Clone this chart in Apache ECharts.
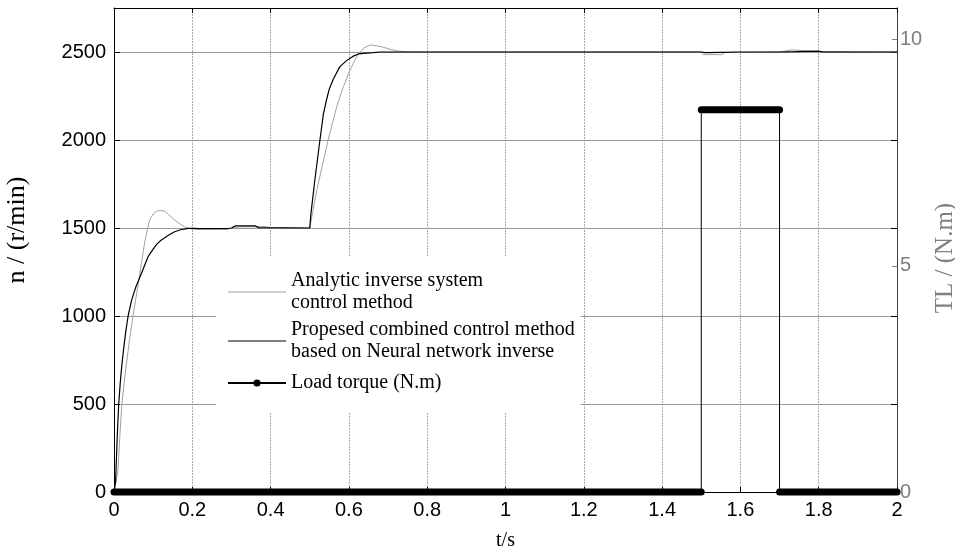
<!DOCTYPE html>
<html>
<head>
<meta charset="utf-8">
<script src="https://cdn.jsdelivr.net/npm/echarts@6/dist/echarts.min.js"></script>
<style>
html, body { margin: 0; padding: 0; background: #fff; }
#main { width: 955px; height: 553px; }
</style>
</head>
<body>
<div id="main"></div>
<script>
// speed response of the analytic inverse system (grey curve)
var tAnalytic = [0, 0.005, 0.01, 0.015, 0.02, 0.03, 0.04, 0.0485, 0.055, 0.061,
    0.07, 0.078, 0.085, 0.091, 0.1, 0.11, 0.12, 0.13, 0.14, 0.155,
    0.17, 0.18, 0.19, 0.2, 0.22, 0.29, 0.3, 0.32, 0.39, 0.4,
    0.5, 0.505, 0.518, 0.547, 0.569, 0.586, 0.603, 0.62, 0.637, 0.654,
    0.67, 0.688, 0.705, 0.722, 0.74, 0.76, 1.5, 1.505, 1.553, 1.56,
    1.7, 1.705, 1.73, 1.76, 1.8, 2];
var nAnalytic = [0, 10, 120, 320, 500, 700, 870, 1000, 1090, 1170,
    1300, 1413, 1490, 1545, 1580, 1597, 1600, 1595, 1575, 1545,
    1520, 1507, 1498, 1494, 1493, 1494, 1497, 1506, 1508, 1501,
    1500, 1560, 1716, 2000, 2190, 2303, 2398, 2474, 2521, 2540,
    2536, 2527, 2515, 2507, 2502, 2500, 2500, 2485, 2485, 2497,
    2500, 2508, 2512, 2508, 2503, 2500];

// speed response of the neural network inverse method (black curve)
var tNeural = [0, 0.004, 0.008, 0.012, 0.016, 0.02, 0.025, 0.03, 0.036, 0.045,
    0.055, 0.065, 0.075, 0.087, 0.1, 0.11, 0.121, 0.14, 0.155, 0.17,
    0.19, 0.2, 0.22, 0.29, 0.3, 0.31, 0.36, 0.37, 0.5, 0.503,
    0.513, 0.526, 0.535, 0.543, 0.55, 0.56, 0.577, 0.594, 0.61, 0.624,
    0.645, 0.662, 0.68, 1.5, 1.51, 1.55, 1.6, 1.7, 1.705, 1.8,
    1.81, 2];
var nNeural = [0, 60, 300, 500, 620, 720, 820, 910, 1000, 1090,
    1160, 1215, 1270, 1337, 1380, 1410, 1432, 1460, 1479, 1490,
    1498, 1498, 1497, 1497, 1500, 1512, 1512, 1502, 1500, 1580,
    1773, 2000, 2150, 2230, 2290, 2345, 2417, 2451, 2475, 2489,
    2494, 2496, 2500, 2500, 2496, 2498, 2500, 2500, 2505, 2505,
    2500, 2500];

// load torque step
var tTorque = [0, 1.5, 1.5, 1.7, 1.7, 2];
var vTorque = [0, 0, 8.45, 8.45, 0, 0];

var nameAnalytic = 'Analytic inverse system\ncontrol method';
var nameNeural = 'Propesed combined control method\nbased on Neural network inverse';
var nameTorque = 'Load torque (N.m)';

function pairs(t, v) {
    var res = [];
    for (var i = 0; i < t.length; i++) res.push([t[i], v[i]]);
    return res;
}

var chart = echarts.init(document.getElementById('main'));

var series = [
    {
        name: nameAnalytic, type: 'line', xAxisIndex: 0, yAxisIndex: 0,
        data: pairs(tAnalytic, nAnalytic),
        symbol: 'none', lineStyle: { color: '#a0a0a0', width: 1 },
        itemStyle: { color: '#a0a0a0' }, z: 2
    },
    {
        name: nameNeural, type: 'line', xAxisIndex: 0, yAxisIndex: 0,
        data: pairs(tNeural, nNeural),
        symbol: 'none', lineStyle: { color: '#000', width: 1.2 },
        itemStyle: { color: '#000' }, z: 3
    },
    {
        name: nameTorque, type: 'line', xAxisIndex: 0, yAxisIndex: 1,
        data: pairs(tTorque, vTorque),
        symbol: 'circle', showSymbol: false,
        lineStyle: { color: '#000', width: 1 },
        itemStyle: { color: '#000' }, z: 4
    }
];

// dense markers of the torque trace look like thick bars on the flat parts
for (var i = 0; i < tTorque.length - 1; i++) {
    if (vTorque[i] === vTorque[i + 1]) {
        series.push({
            type: 'line', xAxisIndex: 0, yAxisIndex: 1,
            data: [[tTorque[i], vTorque[i]], [tTorque[i + 1], vTorque[i + 1]]],
            symbol: 'none', clip: false, silent: true,
            lineStyle: { color: '#000', width: 7, cap: 'round' },
            z: 5
        });
    }
}

var tickFont = { fontFamily: 'Liberation Sans', fontSize: 20, color: '#000' };

chart.setOption({
    animation: false,
    backgroundColor: '#fff',
    grid: { left: 114, right: 58, top: 8, bottom: 61, outerBoundsMode: 'none' },
    legend: {
        left: 216, top: 257, orient: 'vertical',
        backgroundColor: '#fff',
        padding: [13, 6, 14, 11],
        itemWidth: 58, itemHeight: 9, itemGap: 5,
        selectedMode: false,
        textStyle: { fontFamily: 'Liberation Serif', fontSize: 20, color: '#000', lineHeight: 22 },
        data: [
            { name: nameAnalytic, icon: 'path://M0,0H100V2H0Z' },
            { name: nameNeural, icon: 'path://M0,0H100V2H0Z' },
            { name: nameTorque, textStyle: { lineHeight: 30 } }
        ]
    },
    xAxis: [
        {
            type: 'value', position: 'bottom', min: 0, max: 2, interval: 0.2,
            name: 't/s', nameLocation: 'middle', nameGap: 39,
            nameTextStyle: { fontFamily: 'Liberation Serif', fontSize: 20, color: '#000' },
            axisLine: { onZero: false, lineStyle: { color: '#000', width: 1 } },
            axisTick: { inside: true, length: 5, lineStyle: { color: '#000' } },
            axisLabel: Object.assign({ margin: 8 }, tickFont),
            splitLine: { show: true, lineStyle: { color: '#a8a8a8', width: 1, type: [2, 1] } }
        },
        {
            type: 'value', position: 'top', min: 0, max: 2, interval: 0.2,
            axisLine: { onZero: false, lineStyle: { color: '#000', width: 1 } },
            axisTick: { inside: true, length: 5, lineStyle: { color: '#000' } },
            axisLabel: { show: false },
            splitLine: { show: false }
        }
    ],
    yAxis: [
        {
            type: 'value', position: 'left', min: 0, max: 2750, interval: 500,
            name: 'n / (r/min)', nameLocation: 'middle', nameGap: 84, nameRotate: 90,
            nameTextStyle: { fontFamily: 'Liberation Serif', fontSize: 26, color: '#000', padding: [0, 0, 0, 40] },
            axisLine: { show: true, onZero: false, lineStyle: { color: '#000', width: 1 } },
            axisTick: { show: true, inside: true, length: 6, lineStyle: { color: '#000' } },
            axisLabel: Object.assign({ margin: 8, showMaxLabel: false, formatter: function (v) { return String(v); } }, tickFont),
            splitLine: { show: true, lineStyle: { color: '#999', width: 1 } }
        },
        {
            type: 'value', position: 'right', min: 0, max: 10.7, interval: 5,
            name: 'TL / (N.m)', nameLocation: 'middle', nameGap: 24, nameRotate: 90,
            nameTextStyle: { fontFamily: 'Liberation Serif', fontSize: 25, color: '#808080', padding: [0, 16, 0, 0] },
            axisLine: { show: true, onZero: false, lineStyle: { color: '#404040', width: 1 } },
            axisTick: { show: true, inside: true, length: 5, lineStyle: { color: '#808080' } },
            axisLabel: { margin: 3, showMaxLabel: false, fontFamily: 'Liberation Sans', fontSize: 20, color: '#808080' },
            splitLine: { show: false }
        },
        {
            type: 'value', position: 'right', min: 0, max: 2750, interval: 500,
            axisLine: { show: true, onZero: false, lineStyle: { color: '#404040', width: 1 } },
            axisTick: { show: true, inside: true, length: 6, lineStyle: { color: '#000' } },
            axisLabel: { show: false },
            splitLine: { show: false }
        }
    ],
    series: series
});
</script>
</body>
</html>
